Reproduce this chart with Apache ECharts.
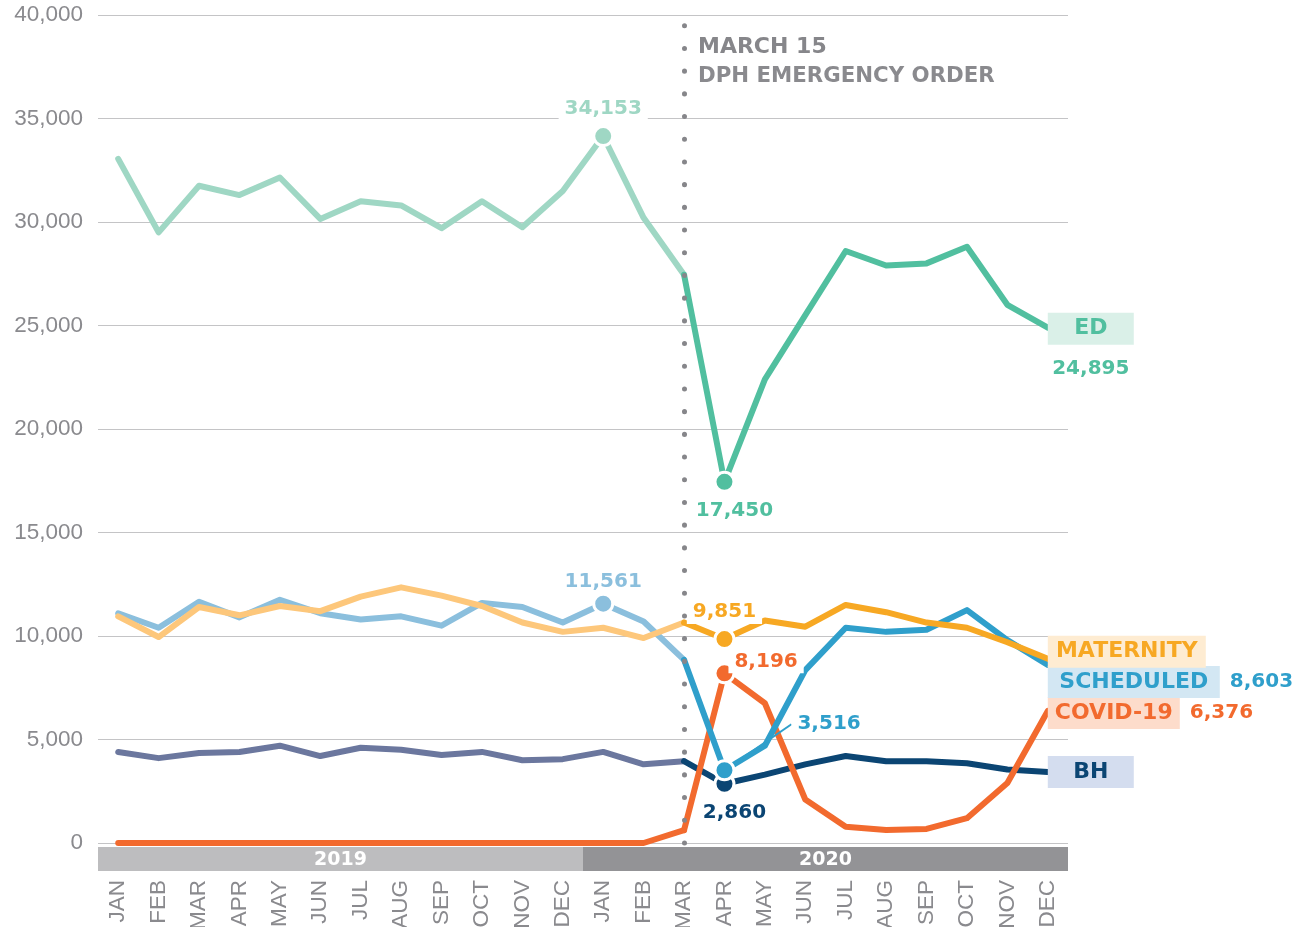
<!DOCTYPE html>
<html><head><meta charset="utf-8">
<script src="https://cdn.jsdelivr.net/npm/echarts@6/dist/echarts.min.js"></script>
<style>html,body{margin:0;padding:0;background:#fff}#c{width:1293px;height:927px}</style>
</head><body><div id="c"></div>
<script>
// ---- data ----
const monthNames = ['JAN','FEB','MAR','APR','MAY','JUN','JUL','AUG','SEP','OCT','NOV','DEC'];
const years = ['2019','2020'];
const categories = [];
years.forEach(y => monthNames.forEach(m => categories.push(m + ' ' + y)));
const yTicks = [0, 5000, 10000, 15000, 20000, 25000, 30000, 35000, 40000];

const edValues = [33050,29500,31750,31300,32150,30150,31000,30800,29700,31000,29750,31500,
                  34153,30200,27450,17450,22400,25500,28600,27900,28000,28800,26000,24895];
const scheduledValues = [11100,10400,11650,10900,11750,11100,10800,10950,10500,11600,11400,10650,
                  11561,10700,8850,3516,4700,8350,10400,10200,10300,11250,9800,8603];
const maternityValues = [10950,9950,11400,11000,11450,11200,11900,12350,11950,11450,10650,10200,
                  10400,9900,10650,9851,10750,10450,11500,11150,10650,10400,9700,8900];
const covidValues = [0,0,0,0,0,0,0,0,0,0,0,0,
                  0,0,620,8196,6750,2100,780,630,680,1200,2900,6376];
const bhValues = [4400,4100,4350,4400,4700,4200,4600,4500,4250,4400,4000,4050,
                  4400,3800,3950,2860,3300,3800,4200,3950,3950,3850,3550,3430];
const orderIndex = 14; // MAR 2020
const orderText = ['MARCH 15', 'DPH EMERGENCY ORDER'];

// ---- helpers ----
const FONT = 'DejaVu Sans';
const fmt = v => Number(v).toLocaleString('en-US');

function hl(v, color, pos, extra) {
  return {
    value: v, symbol: 'circle', symbolSize: 19,
    itemStyle: { color: color, borderColor: '#fff', borderWidth: 3 },
    label: Object.assign({
      show: true, position: pos, formatter: () => fmt(v), color: color,
      fontFamily: FONT, fontWeight: 'bold', fontSize: 20,
      backgroundColor: '#fff', padding: [2, 6], distance: 6
    }, extra || {})
  };
}

function split(values, lightColor, darkColor, name, highlights, endLab) {
  const light = values.map((v, i) => {
    if (i > orderIndex) return null;
    const h = highlights[i];
    return h && h.part === 'light' ? hl(v, lightColor, h.pos, h.extra) : v;
  });
  const dark = values.map((v, i) => {
    if (i < orderIndex) return null;
    const h = highlights[i];
    return h && h.part === 'dark' ? hl(v, darkColor, h.pos, h.extra) : v;
  });
  const base = {
    type: 'line', symbol: 'none', showSymbol: true, silent: true,
    connectNulls: false, z: 3,
    emphasis: { disabled: true }
  };
  return [
    Object.assign({}, base, { name: name + '_2019', data: light,
      lineStyle: { color: lightColor, width: 6, cap: 'round', join: 'round' },
      itemStyle: { color: lightColor } }),
    Object.assign({}, base, { name: name, data: dark,
      lineStyle: { color: darkColor, width: 6, cap: 'round', join: 'round' },
      itemStyle: { color: darkColor },
      endLabel: endLab })
  ];
}

function endLabel(name, bg, color, width, showValue, layout, offY) {
  const below = layout === 'below';
  const rich = {
    n: { backgroundColor: bg, color: color, width: width, height: 32, lineHeight: 32,
         align: 'center', fontFamily: FONT, fontWeight: 'bold', fontSize: 22 },
    v: { color: color, fontFamily: FONT, fontWeight: 'bold', fontSize: 20,
         lineHeight: 24,
         padding: below ? [24, 0, 0, 0] : [0, 0, 0, 10],
         width: below ? width : undefined,
         align: below ? 'center' : 'left' }
  };
  return {
    show: true, distance: 0, offset: [0, offY],
    formatter: p => {
      if (!showValue) return '{n|' + name + '}';
      return below
        ? '{n|' + name + '}\n{v|' + fmt(p.value) + '}'
        : '{n|' + name + '}{v|' + fmt(p.value) + '}';
    },
    rich: rich
  };
}

const C = {
  edL: '#9fd7c4', edD: '#51bf9f',
  scL: '#8bbfdd', scD: '#2f9fcb',
  maL: '#fdc77b', maD: '#f7a823',
  cvL: '#f26a2e', cvD: '#f26a2e',
  bhL: '#6b779e', bhD: '#0b4573'
};

const series = [].concat(
  split(bhValues, C.bhL, C.bhD, 'BH',
    { 15: { part: 'dark', pos: 'bottom', extra: { offset: [10, 0] } } },
    endLabel('BH', '#d4ddef', C.bhD, 86, false, 'none', 0)),
  split(covidValues, C.cvL, C.cvD, 'COVID-19',
    { 15: { part: 'dark', pos: 'right', extra: { offset: [0, -12], distance: -7 } } },
    endLabel('COVID-19', '#fddccb', C.cvD, 132, true, 'right', 2)),
  split(scheduledValues, C.scL, C.scD, 'SCHEDULED',
    { 12: { part: 'light', pos: 'top', extra: { distance: -1 } },
      15: { part: 'dark', pos: 'right', extra: { distance: 4 } } },
    endLabel('SCHEDULED', '#d3e7f3', C.scD, 172, true, 'right', 17)),
  split(maternityValues, C.maL, C.maD, 'MATERNITY',
    { 15: { part: 'dark', pos: 'top', extra: { distance: 4 } } },
    endLabel('MATERNITY', '#feecd2', C.maD, 158, false, 'none', -7)),
  split(edValues, C.edL, C.edD, 'ED',
    { 12: { part: 'light', pos: 'top', extra: { distance: 4 } },
      15: { part: 'dark', pos: 'bottom', extra: { offset: [10, 0] } } },
    endLabel('ED', '#daf0e8', C.edD, 86, true, 'below', 13))
);

// leader line for the 3,516 label
const schedDark = series.find(s => s.name === 'SCHEDULED');
schedDark.labelLine = { show: true, lineStyle: { color: C.scD, width: 2 } };
schedDark.labelLayout = p => (p.dataIndex === 15 ? { dx: 52, dy: -46 } : {});

// emergency order dotted line
series[0].markLine = {
  silent: true, symbol: 'none', animation: false,
  label: { show: false },
  lineStyle: { color: '#86868a', width: 5, type: [0.1, 22.6], cap: 'round' },
  data: [{ xAxis: orderIndex }]
};

// year band
series.push({
  type: 'bar', xAxisIndex: 1, yAxisIndex: 1, silent: true,
  barWidth: '100%', barGap: 0,
  data: years.map((y, i) => ({ value: 1, itemStyle: { color: i === 0 ? '#bdbdbf' : '#939396' } })),
  label: { show: true, position: 'inside', color: '#fff', fontFamily: FONT, fontWeight: 'bold',
           fontSize: 19, offset: [0, 1], formatter: p => years[p.dataIndex] }
});

const chart = echarts.init(document.getElementById('c'), null, { renderer: 'canvas' });
chart.setOption({
  animation: false,
  backgroundColor: '#fff',
  title: {
    left: 698, top: 33, padding: 0,
    text: '{a|' + orderText[0] + '}\n{b|' + orderText[1] + '}',
    textStyle: {
      rich: {
        a: { color: '#86868a', fontFamily: FONT, fontWeight: 'bold', fontSize: 22, lineHeight: 29 },
        b: { color: '#8a8a8e', fontFamily: FONT, fontWeight: 'bold', fontSize: 21.3, lineHeight: 29 }
      }
    }
  },
  grid: [
    { left: 98, right: 225, top: 15, bottom: 84, containLabel: false, outerBoundsMode: 'none' },
    { left: 98, right: 225, top: 847, height: 24, containLabel: false, outerBoundsMode: 'none' }
  ],
  xAxis: [
    { type: 'category', gridIndex: 0, data: categories, boundaryGap: true,
      axisLine: { show: false }, axisTick: { show: false },
      axisLabel: { rotate: 90, margin: 37, interval: 0, color: '#8a8a8e', fontSize: 22.5,
                   fontFamily: 'Liberation Sans', formatter: v => v.split(' ')[0] } },
    { type: 'category', gridIndex: 1, data: years, show: false }
  ],
  yAxis: [
    { type: 'value', gridIndex: 0, min: yTicks[0], max: yTicks[yTicks.length - 1], interval: 5000,
      axisLine: { show: false }, axisTick: { show: false },
      splitLine: { lineStyle: { color: '#c4c4c6', width: 1 } },
      axisLabel: { margin: 15, color: '#8a8a8e', fontSize: 22.5, fontFamily: 'Liberation Sans',
                   formatter: v => fmt(v) } },
    { type: 'value', gridIndex: 1, min: 0, max: 1, show: false }
  ],
  series: series
});
</script>
</body></html>
